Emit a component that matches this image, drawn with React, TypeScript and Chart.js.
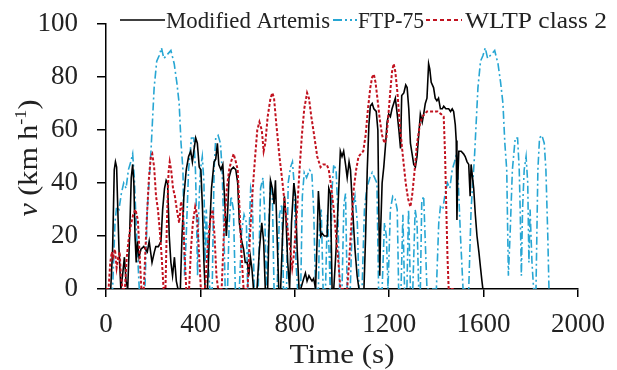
import React, { useEffect, useRef } from "react";
import { Chart, registerables } from "chart.js";

Chart.register(...registerables);

const FONT = "'Liberation Serif', 'Times New Roman', serif";

const xTicks = [0, 400, 800, 1200, 1600, 2000];
const yTicks = [0, 20, 40, 60, 80, 100];
const seriesNames = ["Modified Artemis", "FTP-75", "WLTP class 2"];
const xTitle = "Time (s)";

// Modified Artemis (black solid)
const artemisTime = [0, 20, 28, 35, 40, 45, 50, 55, 63, 70, 78, 85, 92, 100, 107, 113, 118, 123, 128, 133, 140, 148, 160, 175, 183, 195, 205, 211, 222, 233, 240, 248, 255, 261, 268, 275, 282, 290, 298, 305, 315, 322, 330, 340, 350, 359, 366, 372, 380, 387, 395, 402, 409, 415, 420, 430, 438, 447, 458, 465, 472, 478, 487, 495, 502, 510, 516, 521, 530, 540, 550, 558, 565, 575, 583, 590, 599, 605, 612, 618, 625, 640, 650, 660, 668, 675, 685, 690, 697, 705, 712, 718, 725, 732, 740, 748, 756, 762, 770, 778, 786, 796, 803, 810, 818, 825, 838, 845, 852, 860, 866, 873, 880, 888, 895, 900, 905, 910, 916, 925, 937, 944, 951, 958, 965, 975, 985, 993, 1000, 1007, 1015, 1022, 1030, 1036, 1045, 1055, 1064, 1072, 1093, 1100, 1107, 1114, 1120, 1128, 1135, 1145, 1152, 1156, 1160, 1163, 1170, 1177, 1185, 1191, 1198, 1205, 1212, 1219, 1226, 1234, 1241, 1248, 1253, 1262, 1270, 1276, 1283, 1290, 1297, 1304, 1311, 1318, 1325, 1332, 1340, 1346, 1353, 1360, 1367, 1372, 1378, 1388, 1395, 1402, 1409, 1417, 1425, 1431, 1440, 1452, 1460, 1467, 1473, 1480, 1484, 1487, 1490, 1495, 1505, 1515, 1522, 1530, 1537, 1543, 1547, 1552, 1558, 1565, 1572, 1580, 1587, 1593, 1597, 1600];
const artemisSpeed = [0, 0, 15, 45, 48, 46, 30, 15, 0, 5, 12, 3, 0, 20, 42, 47, 40, 20, 10, 18, 12, 15, 16, 14, 18, 10, 14, 16, 16, 18, 30, 38, 41, 40, 20, 10, 5, 12, 3, 0, 0, 20, 35, 45, 50, 52, 48, 52, 57, 55, 46, 45, 30, 10, 0, 0, 20, 38, 48, 49, 55, 47, 45, 47, 35, 20, 30, 42, 45, 46, 45, 40, 25, 18, 15, 10, 10, 5, 12, 8, 0, 0, 15, 25, 18, 0, 0, 20, 41, 38, 32, 41, 20, 0, 0, 20, 35, 28, 10, 0, 25, 40, 35, 15, 0, 0, 4, 6, 3, 5, 4, 3, 4, 0, 20, 37, 30, 20, 21, 20, 20, 38, 36, 0, 0, 15, 35, 52, 50, 52, 47, 42, 48, 45, 30, 15, 5, 0, 0, 20, 45, 62, 69, 70, 68, 67, 60, 30, 5, 20, 40, 46, 55, 63, 66, 65, 68, 70, 72, 66, 60, 53, 73, 74, 77, 76, 68, 55, 51, 47, 46, 50, 58, 66, 63, 66, 70, 72, 85, 83, 78, 76, 72, 71, 72, 68, 68, 69, 68, 68, 67, 68, 67, 62, 56, 26, 40, 52, 52, 51, 50, 48, 47, 35, 47, 43, 38, 28, 20, 14, 8, 3, 0, 0];

// FTP-75 (blue dash-dot)
const ftpTime = [0, 20, 28, 38, 45, 55, 65, 75, 85, 95, 105, 113, 120, 130, 141, 165, 175, 190, 204, 215, 225, 235, 245, 255, 265, 275, 289, 300, 310, 318, 326, 333, 340, 350, 362, 372, 379, 383, 388, 393, 400, 408, 415, 420, 425, 433, 440, 450, 458, 465, 475, 485, 492, 500, 505,
  515, 522, 530, 540, 548, 565, 575, 585, 595, 600, 606, 613, 620, 628, 645, 655, 665, 672, 680, 690, 697, 705, 712, 725, 735, 745, 752, 765, 772, 782, 790, 797, 805, 812, 825, 832, 840, 850, 862, 872, 880, 888, 900, 905, 912, 920, 930, 938, 945, 950, 958, 965, 975, 982, 990, 1000, 1008, 1015, 1022, 1035, 1045, 1055, 1065, 1072, 1085, 1095, 1105, 1118, 1128, 1138, 1148, 1155, 1170, 1180, 1188, 1195, 1205, 1215, 1225, 1234, 1240, 1250, 1258, 1265, 1275, 1282, 1290, 1300, 1310, 1318, 1325, 1332, 1338, 1346, 1352, 1360,
  1372, 1392, 1400, 1410, 1417, 1427, 1437, 1447, 1457, 1467, 1477, 1485, 1492, 1502, 1513, 1537, 1547, 1562, 1576, 1587, 1597, 1607, 1617, 1627, 1637, 1647, 1661, 1672, 1682, 1690, 1698, 1705, 1712, 1722, 1734, 1744, 1751, 1755, 1760, 1765, 1772, 1780, 1787, 1792, 1797, 1805, 1812, 1822, 1830, 1837, 1847, 1857, 1864, 1872, 1877];
const ftpSpeed = [0, 0, 0, 25, 31, 30, 36, 40, 38, 45, 48, 51, 42, 20, 0, 0, 30, 51, 76, 86, 88, 91, 87, 88, 89, 90, 85, 78, 70, 55, 45, 5, 20, 45, 57, 57, 45, 30, 5, 30, 45, 50, 40, 10, 30, 10, 0, 0, 45, 57, 58, 55, 45, 20, 0,
  0, 25, 35, 30, 0, 0, 22, 28, 25, 0, 20, 38, 35, 0, 0, 38, 42, 30, 0, 25, 41, 35, 0, 0, 28, 32, 0, 0, 40, 46, 48, 40, 10, 0, 0, 35, 44, 42, 45, 44, 30, 0, 0, 25, 30, 0, 0, 28, 15, 0, 38, 47, 45, 30, 0, 0, 32, 36, 0, 0, 30, 35, 25, 0, 0, 30, 38, 42, 44, 42, 40, 0, 0, 25, 20, 0, 30, 35, 34, 30, 0, 0, 28, 0, 0, 30, 0, 0, 30, 25, 0, 0, 33, 35, 20, 0,
  0, 0, 0, 25, 31, 30, 36, 40, 38, 45, 48, 51, 42, 20, 0, 0, 30, 51, 76, 86, 88, 91, 87, 88, 89, 90, 85, 78, 70, 55, 45, 5, 20, 45, 57, 57, 45, 30, 5, 30, 45, 50, 40, 10, 30, 10, 0, 0, 45, 57, 58, 55, 45, 20, 0];

// WLTP class 2 (red dotted)
const wltpTime = [0, 11, 18, 25, 30, 38, 45, 52, 58, 63, 70, 80, 88, 95, 105, 115, 125, 135, 142, 150, 160, 172, 182, 190, 196, 204, 212, 220, 228, 236, 244, 252, 258, 265, 270, 276, 284, 292, 300, 310, 318, 325, 332, 340, 352, 360, 368, 378, 386, 395, 402, 420, 430, 440, 452, 460, 468, 475, 490, 500, 512, 522, 530, 541, 550, 558, 566, 575, 583, 589,
  600, 610, 622, 632, 641, 650, 660, 668, 675, 685, 697, 705, 712, 722, 735, 748, 760, 770, 782, 789, 795, 802, 810, 820, 830, 840, 852, 860, 870, 882, 895, 909, 920, 935, 944, 955, 965, 975, 985, 993, 1022,
  1030, 1040, 1050, 1060, 1070, 1080, 1090, 1100, 1110, 1120, 1128, 1135, 1142, 1150, 1160, 1170, 1180, 1188, 1196, 1205, 1212, 1219, 1226, 1235, 1245, 1258, 1270, 1280, 1290, 1298, 1308, 1318, 1330, 1340, 1350, 1360, 1375, 1390, 1405, 1420, 1431, 1437, 1442, 1447, 1452, 1477];
const wltpSpeed = [0, 0, 10, 14, 12, 15, 8, 12, 14, 5, 0, 0, 12, 18, 24, 28, 30, 26, 14, 0, 0, 25, 42, 50, 51, 46, 35, 30, 22, 12, 0, 0, 25, 44, 48, 45, 38, 35, 30, 25, 33, 30, 15, 0, 0, 15, 25, 31, 28, 12, 0, 0, 15, 25, 30, 20, 5, 0, 0, 22, 38, 45, 48, 51, 48, 45, 30, 12, 0, 0,
  0, 20, 38, 50, 60, 63, 60, 52, 55, 65, 72, 74, 72, 62, 50, 40, 30, 22, 14, 8, 12, 20, 30, 45, 58, 68, 74, 72, 65, 58, 50, 46, 47, 47, 45, 38, 30, 20, 10, 0, 0,
  10, 25, 38, 45, 50, 51, 52, 58, 68, 76, 80, 81, 78, 72, 64, 58, 55, 57, 65, 75, 82, 85, 82, 74, 62, 50, 40, 34, 31, 36, 45, 55, 62, 65, 66, 67, 67, 67, 67, 66, 65, 50, 30, 12, 0, 0];

const artemisColor = "#000000";
const ftpColor = "#27a6d3";
const wltpColor = "#c1121f";

function pts(t: number[], v: number[]) {
  return t.map((x, i) => ({ x, y: v[i] }));
}

const textPlugin = {
  id: "customText",
  afterDraw(chart: any) {
    const ctx = chart.ctx as CanvasRenderingContext2D;
    const area = chart.chartArea;
    ctx.save();
    ctx.fillStyle = "#222";
    ctx.textBaseline = "alphabetic";

    // x axis title
    ctx.font = `28px ${FONT}`;
    const tw = ctx.measureText(xTitle).width;
    const cx = (area.left + area.right) / 2;
    ctx.save();
    ctx.translate(cx, 363);
    ctx.scale(105 / tw, 1);
    ctx.fillText(xTitle, -tw / 2, 0);
    ctx.restore();

    // y axis title: v (km h-1), italic v, superscript -1
    ctx.save();
    ctx.translate(37, 158);
    ctx.rotate(-Math.PI / 2);
    const parts = [
      { t: "v", f: `italic 28px ${FONT}`, dy: 0 },
      { t: " (km h", f: `28px ${FONT}`, dy: 0 },
      { t: "-1", f: `17px ${FONT}`, dy: -11 },
      { t: ")", f: `28px ${FONT}`, dy: 0 },
    ];
    let total = 0;
    for (const p of parts) {
      ctx.font = p.f;
      total += ctx.measureText(p.t).width;
    }
    const s = 117 / total;
    ctx.scale(s, 1);
    let x = -total / 2;
    for (const p of parts) {
      ctx.font = p.f;
      ctx.fillText(p.t, x, p.dy);
      x += ctx.measureText(p.t).width;
    }
    ctx.restore();

    // legend
    const ly = 20;
    const base = 28;
    ctx.font = `23px ${FONT}`;
    const drawText = (txt: string, x0: number, w: number) => {
      const m = ctx.measureText(txt).width;
      ctx.save();
      ctx.translate(x0, base);
      ctx.scale(w / m, 1);
      ctx.fillText(txt, 0, 0);
      ctx.restore();
    };
    // black
    ctx.strokeStyle = artemisColor;
    ctx.lineWidth = 1.5;
    ctx.setLineDash([]);
    ctx.beginPath();
    ctx.moveTo(120, ly);
    ctx.lineTo(165, ly);
    ctx.stroke();
    drawText(seriesNames[0], 166, 164);
    // blue
    ctx.strokeStyle = ftpColor;
    ctx.lineWidth = 2;
    ctx.setLineDash([9, 3, 2, 3, 2, 3]);
    ctx.beginPath();
    ctx.moveTo(333, ly);
    ctx.lineTo(357, ly);
    ctx.stroke();
    drawText(seriesNames[1], 358, 66);
    // red
    ctx.strokeStyle = wltpColor;
    ctx.lineWidth = 2;
    ctx.setLineDash([4, 3]);
    ctx.beginPath();
    ctx.moveTo(426, ly);
    ctx.lineTo(462, ly);
    ctx.stroke();
    drawText(seriesNames[2], 465, 142);
    ctx.restore();
  },
};

export default function App() {
  const ref = useRef<HTMLCanvasElement | null>(null);
  useEffect(() => {
    document.body.style.margin = "0";
    const canvas = ref.current!;
    const tickFont = { family: FONT, size: 27 };
    const chart = new Chart(canvas, {
      type: "line",
      data: {
        datasets: [
          {
            label: seriesNames[0],
            data: pts(artemisTime, artemisSpeed),
            borderColor: artemisColor,
            borderWidth: 1.6,
            pointRadius: 0,
            tension: 0,
            order: 2,
          },
          {
            label: seriesNames[1],
            data: pts(ftpTime, ftpSpeed),
            borderColor: ftpColor,
            borderWidth: 1.6,
            borderDash: [8, 3, 2, 3],
            pointRadius: 0,
            tension: 0,
            order: 3,
          },
          {
            label: seriesNames[2],
            data: pts(wltpTime, wltpSpeed),
            borderColor: wltpColor,
            borderWidth: 2,
            borderDash: [3, 2],
            pointRadius: 0,
            tension: 0,
            order: 1,
          },
        ],
      },
      options: {
        responsive: false,
        animation: false,
        devicePixelRatio: 1,
        layout: { padding: { left: 0, right: 39, top: 24, bottom: 0 } },
        plugins: {
          legend: { display: false },
          tooltip: { enabled: false },
        },
        scales: {
          x: {
            type: "linear",
            min: 0,
            max: 2000,
            afterBuildTicks: (s: any) => {
              s.ticks = xTicks.map((v) => ({ value: v }));
            },
            afterFit: (s: any) => {
              s.height = 81;
              s.paddingLeft = 0;
              s.paddingRight = 0;
            },
            ticks: {
              font: tickFont,
              color: "#222",
              padding: 12,
              maxRotation: 0,
              autoSkip: false,
              callback: (v: any) => String(v),
            },
            grid: { display: true, drawOnChartArea: false, drawTicks: true, tickLength: 8, color: "#000", lineWidth: 1.5 },
            border: { display: true, color: "#000", width: 1.5 },
          },
          y: {
            min: 0,
            max: 100,
            afterBuildTicks: (s: any) => {
              s.ticks = yTicks.map((v) => ({ value: v }));
            },
            afterFit: (s: any) => {
              s.width = 106;
              s.paddingTop = 0;
              s.paddingBottom = 0;
            },
            ticks: { font: tickFont, color: "#222", padding: 19, callback: (v: any) => String(v) },
            grid: { display: true, drawOnChartArea: false, drawTicks: true, tickLength: 9, color: "#000", lineWidth: 1.5 },
            border: { display: true, color: "#000", width: 1.5 },
          },
        },
      },
      plugins: [textPlugin],
    });
    return () => chart.destroy();
  }, []);
  return (
    <div style={{ position: "fixed", left: 0, top: 0, width: 617, height: 370, background: "#fff" }}>
      <canvas ref={ref} width={617} height={370} style={{ width: 617, height: 370, display: "block" }} />
    </div>
  );
}
